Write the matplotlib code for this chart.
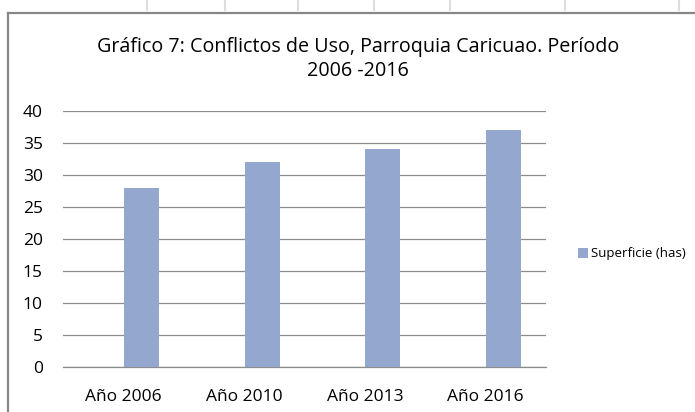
"""
Gráfico 7: Conflictos de Uso, Parroquia Caricuao (2006-2016).
Barras de superficie (has) por año, estilo hoja de cálculo.
"""

import matplotlib
matplotlib.use("Agg")
import matplotlib.pyplot as plt
from matplotlib.lines import Line2D
import numpy as np

CATEGORIES = ["Año 2006", "Año 2010", "Año 2013", "Año 2016"]
SUPERFICIE = [28, 32, 34, 37]
Y_TICKS = [0, 5, 10, 15, 20, 25, 30, 35, 40]
SERIES_LABEL = "Superficie (has)"
TITLE = "Gráfico 7: Conflictos de Uso, Parroquia Caricuao. Período\n2006 -2016"

W, H = 695, 412
BAR_COLOR = "#94a8cf"
GRID_COLOR = "#8c8c8c"
BORDER_COLOR = "#868686"
FONT = "Open Sans"

plt.rcParams["font.family"] = [FONT, "DejaVu Sans"]


def fx(x):
    return x / W


def fy(y):
    return 1 - y / H


fig = plt.figure(figsize=(W / 100, H / 100), dpi=100)

# celdas de la hoja de cálculo (arriba) y borde del gráfico
for x in [147, 225, 298, 374, 450, 565, 679]:
    fig.add_artist(Line2D([fx(x), fx(x)], [fy(0), fy(10)], color="#dedede", lw=1.5))
fig.add_artist(Line2D([fx(8), fx(8)], [fy(13), fy(H + 5)], color=BORDER_COLOR, lw=1.6))
fig.add_artist(Line2D([fx(8), fx(W + 5)], [fy(13), fy(13)], color=BORDER_COLOR, lw=1.6))

ax = fig.add_axes([fx(63), fy(367), fx(546) - fx(63), fy(111) - fy(367)])

x = np.arange(len(CATEGORIES))
ax.bar(x + 0.15, SUPERFICIE, width=0.29, color=BAR_COLOR, label=SERIES_LABEL, zorder=3)

ax.set_xlim(-0.5, len(CATEGORIES) - 0.5)
ax.set_ylim(0, 40)
ax.set_yticks(Y_TICKS)
ax.set_xticks(x)
ax.set_xticklabels(CATEGORIES)
ax.yaxis.grid(True, color=GRID_COLOR, lw=0.9, zorder=0)
ax.set_axisbelow(True)

for side in ["left", "right", "top"]:
    ax.spines[side].set_visible(False)
ax.spines["bottom"].set_color(GRID_COLOR)
ax.spines["bottom"].set_linewidth(0.9)

ax.tick_params(axis="y", length=0, pad=14.5, labelsize=12.5, labelcolor="#000000")
ax.tick_params(axis="x", length=0, pad=15.5, labelsize=12.5, labelcolor="#000000")

fig.text(fx(358), fy(59), TITLE, ha="center", va="center", fontsize=14.2,
         linespacing=1.3, color="#000000")

ax.legend(loc="center left", bbox_to_anchor=(fx(578), fy(254)),
          bbox_transform=fig.transFigure, frameon=False, fontsize=9.5,
          handlelength=0.75, handleheight=0.75, handletextpad=0.25,
          borderpad=0, borderaxespad=0)

fig.savefig("out.png", dpi=100)
